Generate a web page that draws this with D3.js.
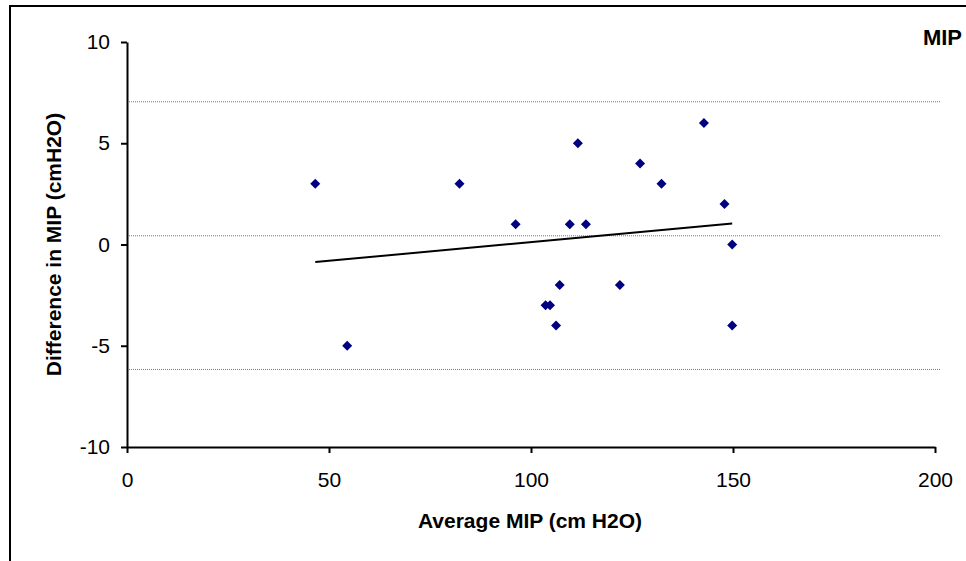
<!DOCTYPE html>
<html>
<head>
<meta charset="utf-8">
<script src="https://cdn.jsdelivr.net/npm/d3@7"></script>
<style>
    body { margin: 0; background: #fff; }
    svg { display: block; font-family: "Liberation Sans", Arial, sans-serif; }
</style>
</head>
<body>
<div id="chart"></div>
<script>
// Average MIP (x) against difference in MIP (y)
const avgMIP = [46.6, 54.5, 82.3, 96.2, 103.6, 104.7, 106.2, 107.1, 109.6, 111.6,
                113.6, 122, 127, 132.3, 142.8, 147.9, 149.8, 149.8];
const diffMIP = [3, -5, 3, 1, -3, -3, -4, -2, 1, 5,
                 1, -2, 4, 3, 6, 2, 0, -4];
// mean difference and limits of agreement
const limitLines = [7.05, 0.43, -6.17];
const xTicks = [0, 50, 100, 150, 200];
const yTicks = [-10, -5, 0, 5, 10];

const width = 966, height = 561;
const margin = { top: 42, right: 31, bottom: 114, left: 127 };

const svg = d3.select("#chart").append("svg")
    .attr("width", width)
    .attr("height", height);

// outer frame, runs off the right and bottom edges
svg.append("rect")
    .attr("x", 10).attr("y", 6)
    .attr("width", width + 20).attr("height", height + 20)
    .attr("fill", "none")
    .attr("stroke", "#000")
    .attr("stroke-width", 2);

const x = d3.scaleLinear().domain([0, 200]).range([margin.left, width - margin.right]);
const y = d3.scaleLinear().domain([-10, 10]).range([height - margin.bottom, margin.top]);

// dotted reference lines
svg.append("g")
    .selectAll("line")
    .data(limitLines)
    .join("line")
    .attr("x1", x(0)).attr("x2", x(200) + 6)
    .attr("y1", d => y(d)).attr("y2", d => y(d))
    .attr("stroke", "#777")
    .attr("stroke-width", 1)
    .attr("stroke-dasharray", "1,1");

const plainNum = d => String(d); // hyphen-minus like the original, not U+2212

const xAxis = svg.append("g")
    .attr("transform", `translate(0,${y(-10)})`)
    .call(d3.axisBottom(x).tickValues(xTicks).tickFormat(plainNum)
        .tickSize(6).tickSizeOuter(0).tickPadding(19));

const yAxis = svg.append("g")
    .attr("transform", `translate(${x(0)},0)`)
    .call(d3.axisLeft(y).tickValues(yTicks).tickFormat(plainNum)
        .tickSize(6).tickSizeOuter(0).tickPadding(11));

[xAxis, yAxis].forEach(g => {
    g.select(".domain").attr("stroke", "#000").attr("stroke-width", 2);
    g.selectAll(".tick line").attr("stroke", "#000").attr("stroke-width", 2);
    g.selectAll(".tick text")
        .attr("font-size", "21px")
        .attr("font-family", "'Liberation Sans', Arial, sans-serif")
        .attr("fill", "#000");
});

// linear trend line (least squares) across the data range
const mx = d3.mean(avgMIP), my = d3.mean(diffMIP);
const slope = d3.sum(avgMIP, (v, i) => (v - mx) * (diffMIP[i] - my)) /
              d3.sum(avgMIP, v => (v - mx) * (v - mx));
const intercept = my - slope * mx;
const [xMin, xMax] = d3.extent(avgMIP);

svg.append("line")
    .attr("x1", x(xMin)).attr("y1", y(intercept + slope * xMin))
    .attr("x2", x(xMax)).attr("y2", y(intercept + slope * xMax))
    .attr("stroke", "#000")
    .attr("stroke-width", 2);

// diamond markers
const diamond = d3.symbol().type(d3.symbolSquare).size(50);
svg.append("g")
    .selectAll("path")
    .data(avgMIP.map((v, i) => ({ x: v, y: diffMIP[i] })))
    .join("path")
    .attr("d", diamond)
    .attr("transform", d => `translate(${x(d.x)},${y(d.y)}) rotate(45)`)
    .attr("fill", "#000080");

// titles
svg.append("text")
    .attr("x", 530).attr("y", 528)
    .attr("text-anchor", "middle")
    .attr("font-size", "21px")
    .attr("font-weight", "bold")
    .text("Average MIP (cm H2O)");

svg.append("text")
    .attr("transform", `translate(61,${y(0)}) rotate(-90)`)
    .attr("text-anchor", "middle")
    .attr("font-size", "21px")
    .attr("font-weight", "bold")
    .text("Difference in MIP (cmH2O)");

svg.append("text")
    .attr("x", 962).attr("y", 45)
    .attr("text-anchor", "end")
    .attr("font-size", "22px")
    .attr("font-weight", "bold")
    .text("MIP");
</script>
</body>
</html>
